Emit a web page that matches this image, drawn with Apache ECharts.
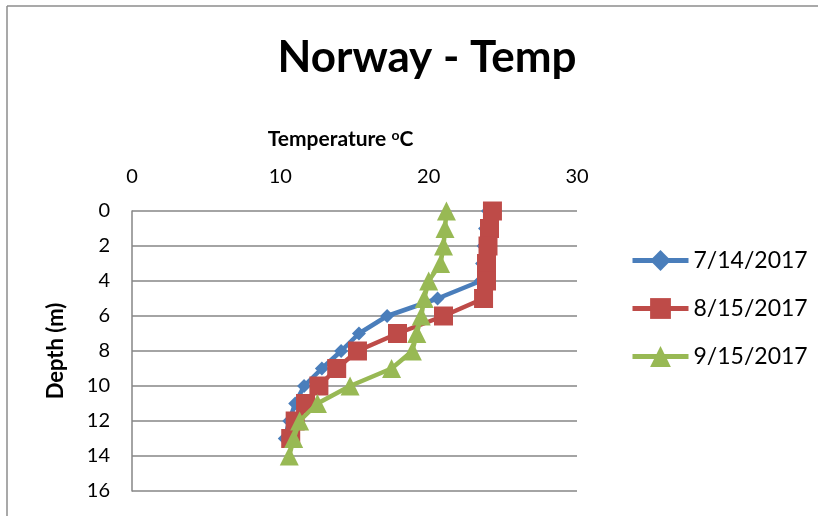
<!DOCTYPE html>
<html>
<head>
<meta charset="utf-8">
<script src="https://cdn.jsdelivr.net/npm/echarts@6/dist/echarts.min.js"></script>
<style>
html,body{margin:0;padding:0;background:#fff;}
#chart{width:818px;height:516px;}
</style>
</head>
<body>
<div id="chart"></div>
<script>
// Depths (m) for each survey
var depths1 = [0,1,2,3,4,5,6,7,8,9,10,11,12,13];
var depths2 = [0,1,2,3,4,5,6,7,8,9,10,11,12,13];
var depths3 = [0,1,2,3,4,5,6,7,8,9,10,11,12,13,14];
// Temperatures (°C)
var temp_0714 = [24.0,23.8,23.7,23.6,23.5,20.6,17.2,15.3,14.1,12.8,11.6,11.0,10.6,10.3];
var temp_0815 = [24.3,24.1,24.0,23.9,23.9,23.7,21.0,17.9,15.2,13.8,12.6,11.7,11.0,10.7];
var temp_0915 = [21.2,21.1,21.0,20.8,20.0,19.7,19.5,19.2,18.9,17.5,14.7,12.5,11.3,10.9,10.6];
var seriesNames = ['7/14/2017','8/15/2017','9/15/2017'];
var xTicks = [0,10,20,30];
var yTicks = [0,2,4,6,8,10,12,14,16];

function pairs(t, d){ return t.map(function(v,i){ return [v, d[i]]; }); }

var FONT = 'Lato, "Open Sans", sans-serif';
var chart = echarts.init(document.getElementById('chart'), null, {renderer:'canvas'});
var colors = ['#4a7ebb','#be4b48','#98b954'];
var symbols = ['diamond','rect','triangle'];
var sizes = [14,19,19];
var datasets = [pairs(temp_0714, depths1), pairs(temp_0815, depths2), pairs(temp_0915, depths3)];

chart.setOption({
  animation:false,
  textStyle:{fontFamily:FONT},
  title:{
    text:'Norway - Temp',
    left:422, top:31, textAlign:'center',
    textStyle:{fontFamily:FONT, fontSize:44, fontWeight:'bold', color:'#000'}
  },
  graphic:[
    {type:'line', shape:{x1:7,y1:6,x2:7,y2:516}, style:{stroke:'#8c8c8c', lineWidth:1.5}},
    {type:'line', shape:{x1:7,y1:6,x2:818,y2:6}, style:{stroke:'#8c8c8c', lineWidth:1.5}}
  ],
  grid:{left:132, right:241, top:211, bottom:25},
  legend:{
    orient:'vertical', left:625, top:243, itemWidth:56, itemHeight:26, itemGap:23,
    data:seriesNames,
    lineStyle:{width:5},
    textStyle:{fontFamily:FONT, fontSize:23, color:'#000', lineHeight:25}
  },
  xAxis:{
    type:'value', position:'top', min:0, max:30, interval:10,
    name:'{a|Temperature }{s|o}{a|C}', nameLocation:'middle', nameGap:60,
    nameTextStyle:{padding:[0,28,0,0], rich:{
      a:{fontFamily:FONT, fontSize:21, fontWeight:'bold', color:'#000'},
      s:{fontFamily:FONT, fontSize:14, fontWeight:'bold', color:'#000', verticalAlign:'top', padding:[0,0,9,0]}
    }},
    axisLine:{show:false}, axisTick:{show:false}, splitLine:{show:false},
    axisLabel:{fontFamily:FONT, fontSize:20, color:'#000', margin:24, formatter:function(v){return xTicks.indexOf(v)>=0?String(v):'';}}
  },
  yAxis:{
    type:'value', inverse:true, min:0, max:16, interval:2,
    name:'Depth (m)', nameLocation:'middle', nameGap:65,
    nameTextStyle:{fontFamily:FONT, fontSize:22, fontWeight:'bold', color:'#000'},
    axisLine:{show:true, lineStyle:{color:'#868686', width:1.5}},
    axisTick:{show:false},
    splitLine:{show:true, lineStyle:{color:'#868686', width:1.5}},
    axisLabel:{fontFamily:FONT, fontSize:20, color:'#000', margin:22, formatter:function(v){return yTicks.indexOf(v)>=0?String(v):'';}}
  },
  series: datasets.map(function(d,i){
    return {
      name:seriesNames[i], type:'line', data:d,
      symbol:symbols[i], symbolSize:sizes[i],
      lineStyle:{color:colors[i], width:4.5},
      itemStyle:{color:colors[i]},
      z:2+i
    };
  })
});
</script>
</body>
</html>
